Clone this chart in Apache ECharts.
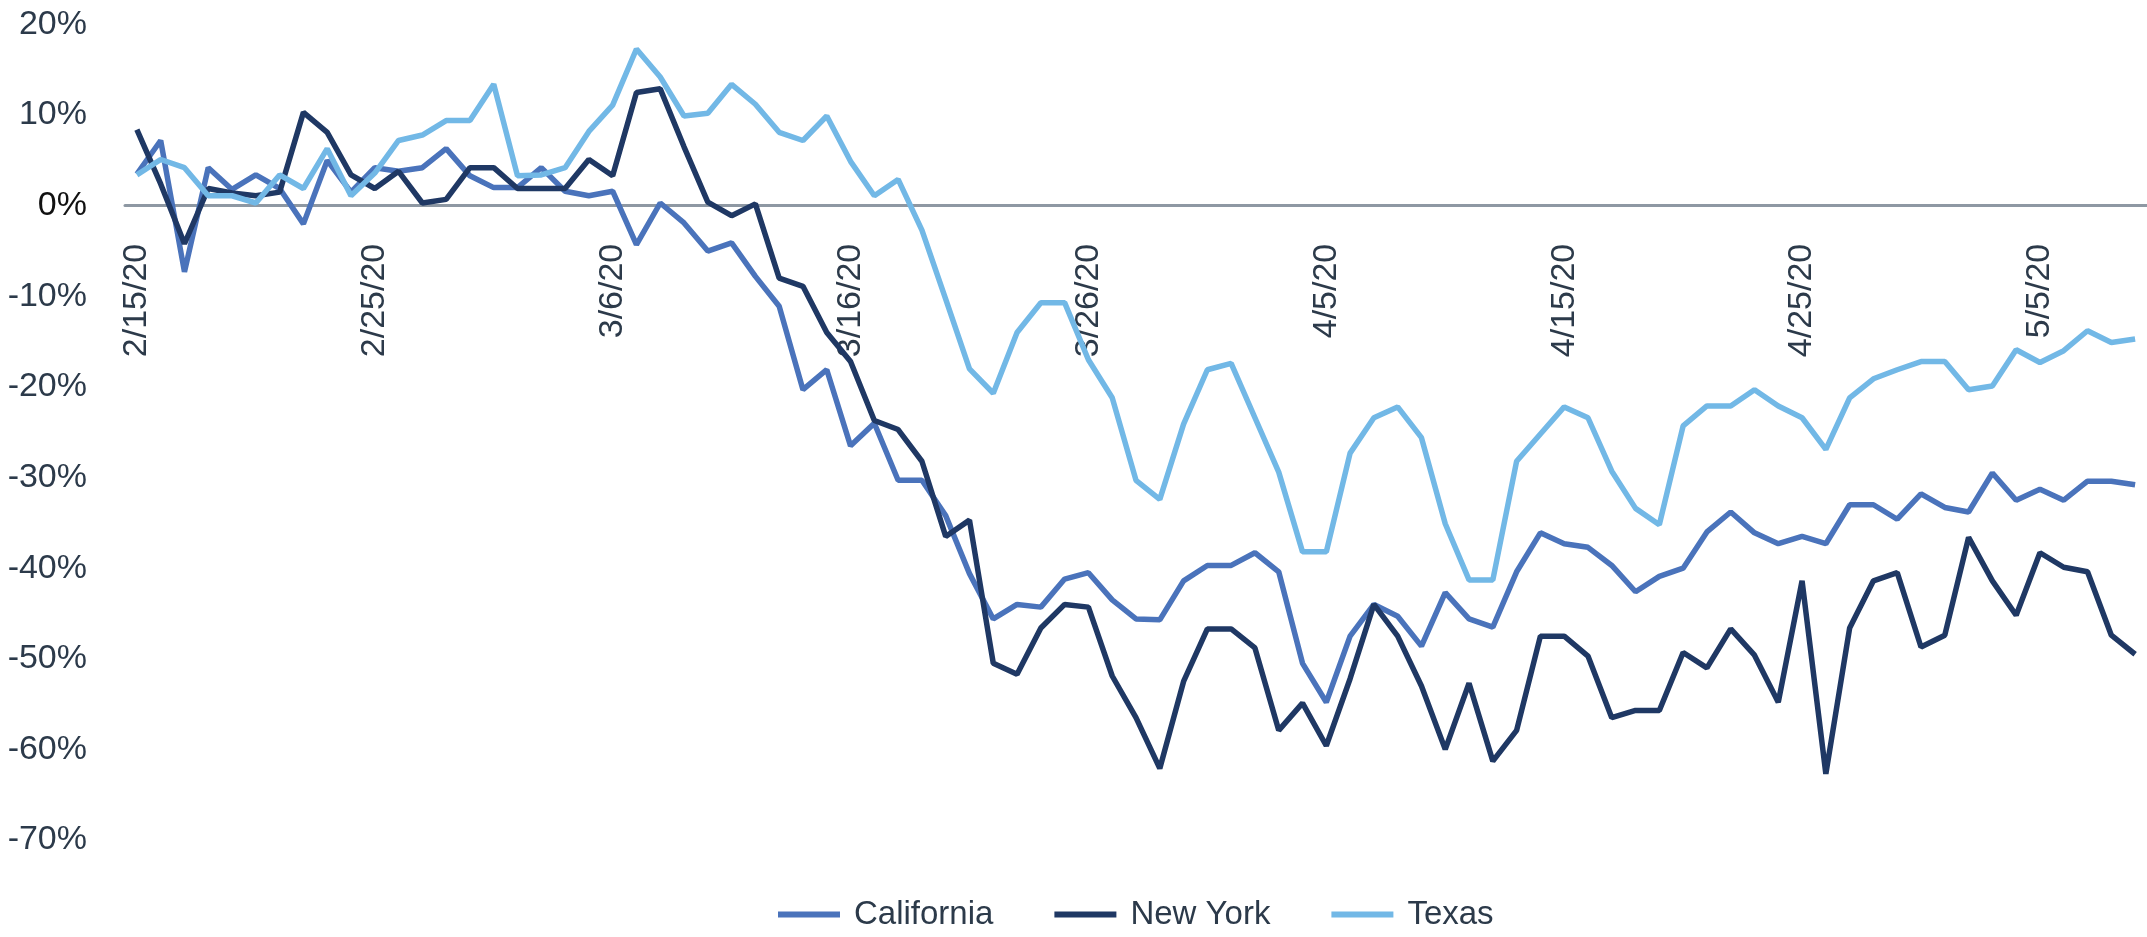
<!DOCTYPE html>
<html>
<head>
<meta charset="utf-8">
<script src="https://cdn.jsdelivr.net/npm/echarts@6/dist/echarts.min.js"></script>
<style>
html,body{margin:0;padding:0;background:#fff;}
#chart{width:2147px;height:937px;}
</style>
</head>
<body>
<div id="chart"></div>
<script>
const dates = [
 '2/15/20','2/16/20','2/17/20','2/18/20','2/19/20','2/20/20','2/21/20','2/22/20','2/23/20','2/24/20',
 '2/25/20','2/26/20','2/27/20','2/28/20','2/29/20','3/1/20','3/2/20','3/3/20','3/4/20','3/5/20',
 '3/6/20','3/7/20','3/8/20','3/9/20','3/10/20','3/11/20','3/12/20','3/13/20','3/14/20','3/15/20',
 '3/16/20','3/17/20','3/18/20','3/19/20','3/20/20','3/21/20','3/22/20','3/23/20','3/24/20','3/25/20',
 '3/26/20','3/27/20','3/28/20','3/29/20','3/30/20','3/31/20','4/1/20','4/2/20','4/3/20','4/4/20',
 '4/5/20','4/6/20','4/7/20','4/8/20','4/9/20','4/10/20','4/11/20','4/12/20','4/13/20','4/14/20',
 '4/15/20','4/16/20','4/17/20','4/18/20','4/19/20','4/20/20','4/21/20','4/22/20','4/23/20','4/24/20',
 '4/25/20','4/26/20','4/27/20','4/28/20','4/29/20','4/30/20','5/1/20','5/2/20','5/3/20','5/4/20',
 '5/5/20','5/6/20','5/7/20','5/8/20','5/9/20'
];

const california = [
 3.5, 7.2, -7.3, 4.2, 1.8, 3.4, 1.9, -2.0, 5.0, 1.5,
 4.2, 3.8, 4.2, 6.3, 3.3, 2.0, 2.0, 4.2, 1.6, 1.1,
 1.6, -4.3, 0.3, -1.9, -5.0, -4.1, -7.8, -11.1, -20.3, -18.1,
 -26.5, -24.0, -30.3, -30.3, -34.2, -40.6, -45.6, -44.0, -44.3, -41.2,
 -40.5, -43.5, -45.6, -45.7, -41.4, -39.7, -39.7, -38.3, -40.4, -50.5,
 -54.8, -47.5, -44.0, -45.3, -48.6, -42.7, -45.6, -46.5, -40.4, -36.1,
 -37.3, -37.7, -39.7, -42.6, -40.9, -40.0, -36.0, -33.8, -36.1, -37.3,
 -36.5, -37.3, -33.0, -33.0, -34.6, -31.8, -33.3, -33.8, -29.5, -32.5,
 -31.3, -32.5, -30.4, -30.4, -30.8
];

const newYork = [
 8.4, 2.4, -4.2, 1.9, 1.4, 1.1, 1.5, 10.3, 8.1, 3.4,
 1.9, 3.8, 0.3, 0.7, 4.2, 4.2, 1.9, 1.9, 1.9, 5.1,
 3.3, 12.5, 12.9, 6.5, 0.4, -1.1, 0.2, -8.0, -8.9, -14.0,
 -17.2, -23.7, -24.7, -28.2, -36.5, -34.7, -50.5, -51.7, -46.6, -44.0,
 -44.3, -51.9, -56.5, -62.1, -52.5, -46.7, -46.7, -48.8, -57.9, -54.9,
 -59.6, -52.2, -44.0, -47.5, -53.0, -60.0, -52.7, -61.3, -57.9, -47.5,
 -47.5, -49.7, -56.5, -55.7, -55.7, -49.3, -51.0, -46.7, -49.6, -54.8,
 -41.4, -62.7, -46.6, -41.4, -40.5, -48.7, -47.4, -36.6, -41.4, -45.2,
 -38.3, -39.9, -40.4, -47.4, -49.5
];

const texas = [
 3.4, 5.1, 4.2, 1.1, 1.1, 0.3, 3.4, 1.9, 6.3, 1.1,
 3.6, 7.2, 7.8, 9.4, 9.4, 13.4, 3.3, 3.4, 4.2, 8.2,
 11.1, 17.3, 14.2, 9.9, 10.2, 13.4, 11.2, 8.1, 7.2, 9.9,
 4.9, 1.1, 2.9, -2.7, -10.3, -18.0, -20.7, -14.0, -10.7, -10.7,
 -17.0, -21.2, -30.3, -32.4, -24.1, -18.1, -17.4, -23.4, -29.4, -38.2,
 -38.2, -27.3, -23.4, -22.2, -25.6, -35.1, -41.3, -41.3, -28.2, -25.2,
 -22.2, -23.4, -29.3, -33.4, -35.2, -24.3, -22.1, -22.1, -20.3, -22.1,
 -23.4, -26.9, -21.2, -19.1, -18.1, -17.2, -17.2, -20.3, -19.9, -15.9,
 -17.3, -16.0, -13.8, -15.1, -14.7
];

const seriesNames = ['California', 'New York', 'Texas'];
const seriesColors = ['#4a73bb', '#1f3864', '#72b8e6'];
const yMin = -70, yMax = 20, yStep = 10;

const FONT = '"Liberation Sans", Arial, sans-serif';
const TEXT = '#2c3a4a';

const GRID_TOP = 24.5, GRID_H = 815.5;
// distance from the bottom of the grid up to the 0% line, through the value scale
const zeroOffset = GRID_H * (0 - yMin) / (yMax - yMin);

const chart = echarts.init(document.getElementById('chart'), null, {renderer: 'canvas'});
const seriesData = [california, newYork, texas];

chart.setOption({
  animation: false,
  backgroundColor: '#ffffff',
  grid: {left: 125, top: GRID_TOP, width: 2028, height: GRID_H, containLabel: false},
  legend: {
    data: seriesNames,
    left: 773,
    top: 893,
    icon: 'rect',
    itemWidth: 62,
    itemHeight: 6,
    itemGap: 61,
    textStyle: {fontFamily: FONT, fontSize: 33, color: TEXT, padding: [0, 0, 0, 9]}
  },
  xAxis: {
    type: 'category',
    data: dates,
    boundaryGap: true,
    position: 'bottom',
    offset: -zeroOffset,
    axisLine: {onZero: false, lineStyle: {color: '#8e98a3', width: 3}},
    axisTick: {show: false},
    splitLine: {show: false},
    axisLabel: {
      interval: 9,
      rotate: 90,
      margin: 38,
      fontFamily: FONT,
      fontSize: 34,
      color: TEXT
    }
  },
  yAxis: {
    type: 'value',
    min: yMin,
    max: yMax,
    interval: yStep,
    axisLine: {show: false},
    axisTick: {show: false},
    splitLine: {show: false},
    axisLabel: {
      margin: 38,
      fontFamily: FONT,
      fontSize: 34,
      formatter: v => v + '%',
      color: (v) => (Number(v) === 0 ? '#111111' : TEXT)
    }
  },
  series: seriesNames.map((n, k) => ({
    name: n,
    type: 'line',
    data: seriesData[k],
    symbol: 'none',
    showSymbol: false,
    smooth: false,
    lineStyle: {width: 5.5, color: seriesColors[k]},
    itemStyle: {color: seriesColors[k]},
    emphasis: {disabled: true}
  }))
});
</script>
</body>
</html>
